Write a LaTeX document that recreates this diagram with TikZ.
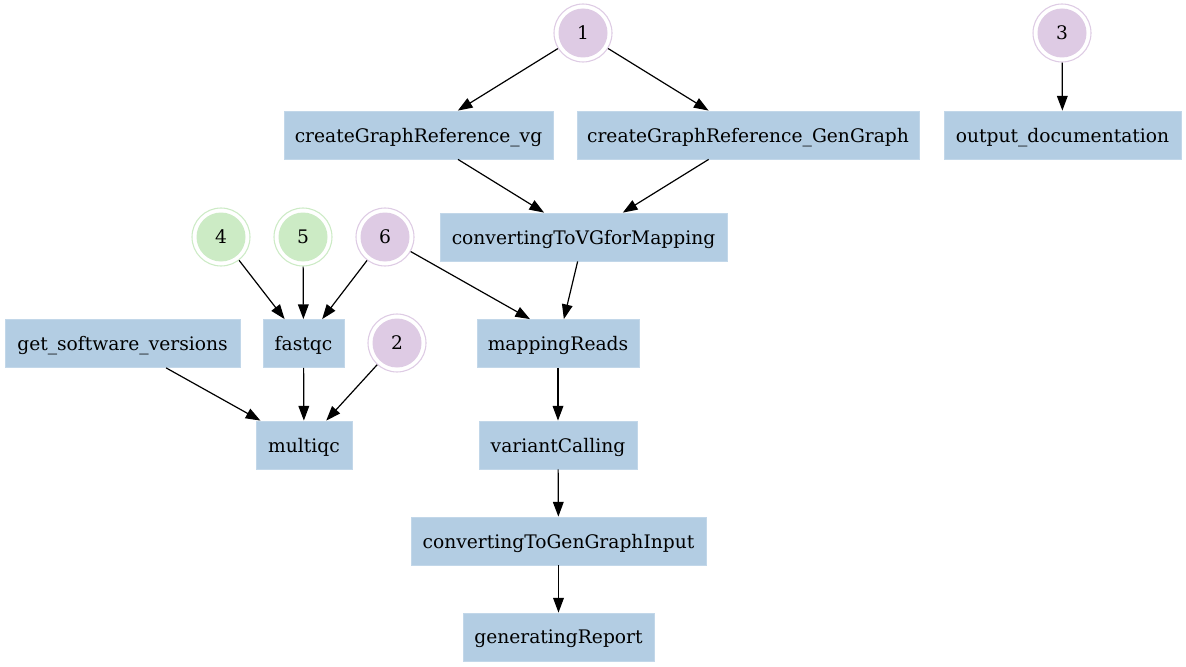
\documentclass[tikz,border=0pt]{standalone}
\usepackage{fontspec}
\setmainfont{DejaVu Serif}
\usetikzlibrary{arrows.meta}
\definecolor{boxblue}{HTML}{B3CDE3}
\definecolor{cpurple}{HTML}{DECBE4}
\definecolor{cgreen}{HTML}{CCEBC5}
\begin{document}
\begin{tikzpicture}[x=0.75pt,y=-0.75pt,
  font=\fontsize{14}{17}\selectfont,
  proc/.style={rectangle, fill=boxblue, draw=boxblue!80!white, line width=0.6pt, minimum height={48*0.75pt}, inner sep=0pt, text depth=0pt},
  dcirc/.style={circle, draw=#1, fill=white, line width=0.8pt, minimum size={58*0.75pt}, inner sep=0pt,
    path picture={\fill[#1] (path picture bounding box.center) circle ({24.5*0.75pt});}},
  edge/.style={line width=0.9pt, -{Triangle[length=11pt,width=8pt]}}
]
\useasboundingbox (0,0) rectangle (1186,667);
% circles
\node[dcirc=cpurple] (c1) at (583,33) {1};
\node[dcirc=cpurple] (c3) at (1062,33) {3};
\node[dcirc=cgreen] (c4) at (221,237) {4};
\node[dcirc=cgreen] (c5) at (303,237) {5};
\node[dcirc=cpurple] (c6) at (385,237) {6};
\node[dcirc=cpurple] (c2) at (397,343) {2};
% process boxes
\node[proc, minimum width={269*0.75pt}] (cvg) at (418.5,135) {createGraphReference\_vg};
\node[proc, minimum width={342*0.75pt}] (cgg) at (748,135) {createGraphReference\_GenGraph};
\node[proc, minimum width={237*0.75pt}] (out) at (1062.5,135) {output\_documentation};
\node[proc, minimum width={287*0.75pt}] (cvgm) at (583.5,237) {convertingToVGforMapping};
\node[proc, minimum width={235*0.75pt}] (gsv) at (122.5,343.5) {get\_software\_versions};
\node[proc, minimum width={81*0.75pt}] (fqc) at (303.5,343.5) {fastqc};
\node[proc, minimum width={162*0.75pt}] (mr) at (558,343.5) {mappingReads};
\node[proc, minimum width={96*0.75pt}] (mqc) at (304,445) {multiqc};
\node[proc, minimum width={158*0.75pt}] (vc) at (558,445) {variantCalling};
\node[proc, minimum width={295*0.75pt}] (cggi) at (558.5,541) {convertingToGenGraphInput};
\node[proc, minimum width={191*0.75pt}] (gr) at (558.5,637) {generatingReport};
% edges
\draw[edge] (c1) -- (cvg);
\draw[edge] (c1) -- (cgg);
\draw[edge] (c3) -- (out);
\draw[edge] (cvg) -- (cvgm);
\draw[edge] (cgg) -- (cvgm);
\draw[edge] (cvgm) -- (mr);
\draw[edge] (c6) -- ([xshift={-28*0.75pt}]mr.north);
\draw[edge] (c4) -- (fqc);
\draw[edge] (c5) -- (fqc);
\draw[edge] (c6) -- (fqc);
\draw[edge] (gsv) -- (mqc);
\draw[edge] (fqc) -- (mqc);
\draw[edge] (c2) -- (mqc);
\draw[edge] (mr) -- (vc);
\draw[edge] (vc) -- (cggi);
\draw[edge] (cggi) -- (gr);
\end{tikzpicture}
\end{document}
